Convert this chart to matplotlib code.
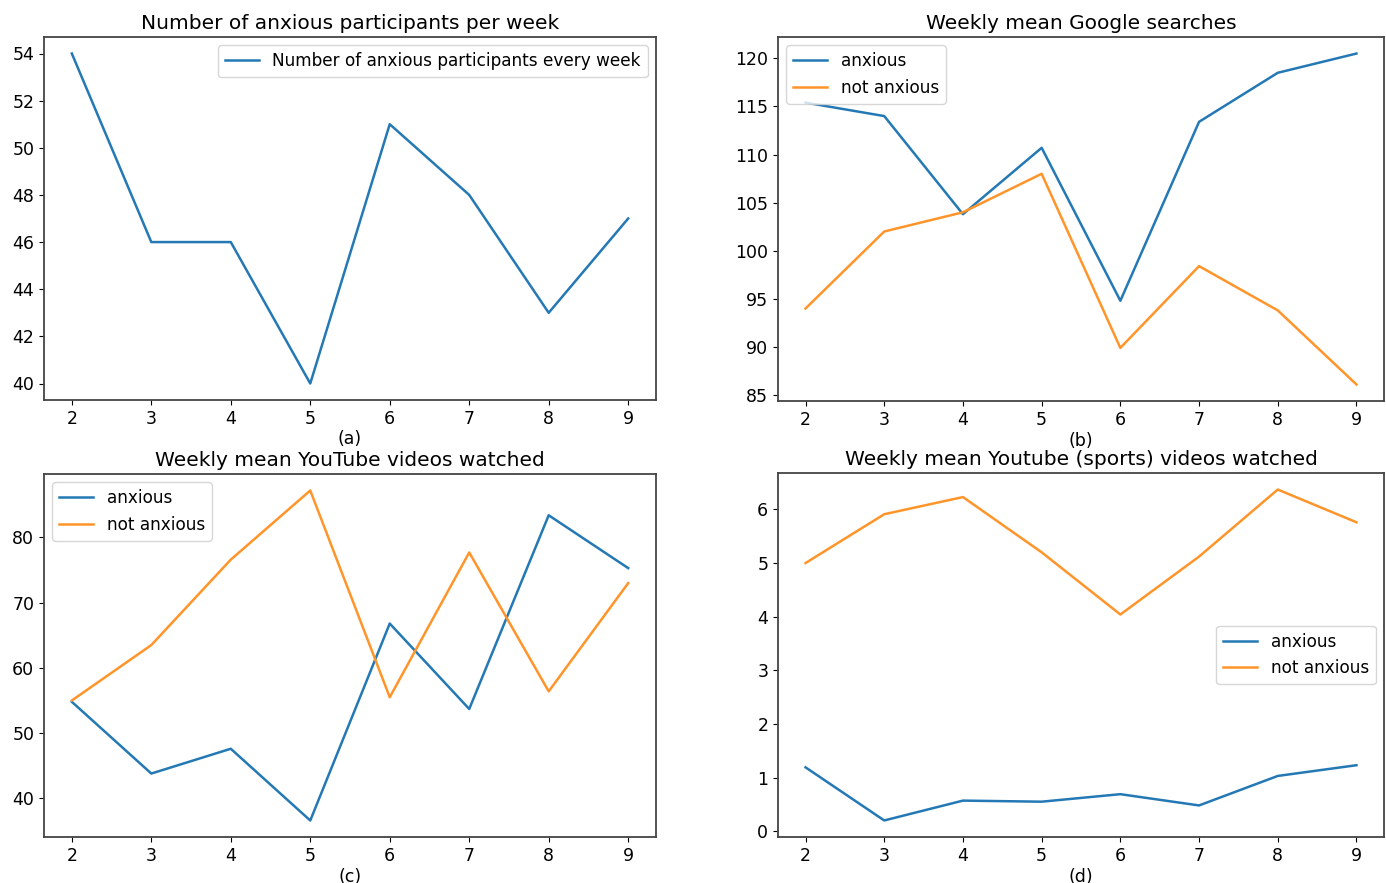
import matplotlib.pyplot as plt

# week numbers shared by all panels
weeks = [2, 3, 4, 5, 6, 7, 8, 9]

# (a) number of anxious participants
n_anxious = [54, 46, 46, 40, 51, 48, 43, 47]

# (b) weekly mean Google searches
google_anxious = [115.4, 114.0, 103.8, 110.7, 94.8, 113.4, 118.5, 120.5]
google_not_anxious = [94.0, 102.0, 104.0, 108.0, 89.9, 98.4, 93.8, 86.1]

# (c) weekly mean YouTube videos watched
yt_anxious = [54.8, 43.8, 47.6, 36.6, 66.8, 53.7, 83.4, 75.3]
yt_not_anxious = [55.0, 63.5, 76.6, 87.2, 55.5, 77.7, 56.4, 73.0]

# (d) weekly mean YouTube sports videos watched
sports_anxious = [1.19, 0.20, 0.57, 0.55, 0.69, 0.48, 1.03, 1.23]
sports_not_anxious = [5.00, 5.91, 6.23, 5.20, 4.04, 5.12, 6.37, 5.76]

TICK_FS = 12.5
LEGEND_FS = 12.2
TITLE_FS = 14.5
LW = 1.8
BLUE = '#2479b5'
ORANGE = '#ff952a'

fig = plt.figure(figsize=(13.86, 8.83), dpi=100)
W, H = 1386, 883


def add_ax(x0, y0, x1, y1):
    # pixel box (top-left origin) -> figure fraction
    return fig.add_axes([x0 / W, 1 - y1 / H, (x1 - x0) / W, (y1 - y0) / H])


ax_a = add_ax(44, 37, 656, 400)
ax_b = add_ax(778, 37, 1384, 401)
ax_c = add_ax(44, 474, 656, 837)
ax_d = add_ax(778, 473, 1384, 837)

ax_a.plot(weeks, n_anxious, color=BLUE, lw=LW,
          label='Number of anxious participants every week')
ax_a.set_title('Number of anxious participants per week', fontsize=TITLE_FS)
ax_a.set_xlabel('(a)')
ax_a.legend(loc='upper right', fontsize=LEGEND_FS)

ax_b.plot(weeks, google_anxious, color=BLUE, lw=LW, label='anxious')
ax_b.plot(weeks, google_not_anxious, color=ORANGE, lw=LW, label='not anxious')
ax_b.set_title('Weekly mean Google searches', fontsize=TITLE_FS)
ax_b.set_xlabel('(b)')
ax_b.legend(loc='upper left', fontsize=LEGEND_FS)

ax_c.plot(weeks, yt_anxious, color=BLUE, lw=LW, label='anxious')
ax_c.plot(weeks, yt_not_anxious, color=ORANGE, lw=LW, label='not anxious')
ax_c.set_title('Weekly mean YouTube videos watched', fontsize=TITLE_FS)
ax_c.set_xlabel('(c)')
ax_c.legend(loc='upper left', fontsize=LEGEND_FS)

ax_d.plot(weeks, sports_anxious, color=BLUE, lw=LW, label='anxious')
ax_d.plot(weeks, sports_not_anxious, color=ORANGE, lw=LW, label='not anxious')
ax_d.set_title('Weekly mean Youtube (sports) videos watched', fontsize=TITLE_FS)
ax_d.set_xlabel('(d)')
ax_d.legend(loc='center right', fontsize=LEGEND_FS)

for ax in (ax_a, ax_b, ax_c, ax_d):
    ax.tick_params(labelsize=TICK_FS)
    ax.xaxis.label.set_fontsize(12.5)
    ax.xaxis.labelpad = 2
    for sp in ax.spines.values():
        sp.set_color('#444444')
        sp.set_linewidth(1.3)

fig.savefig('out.png', dpi=100)
